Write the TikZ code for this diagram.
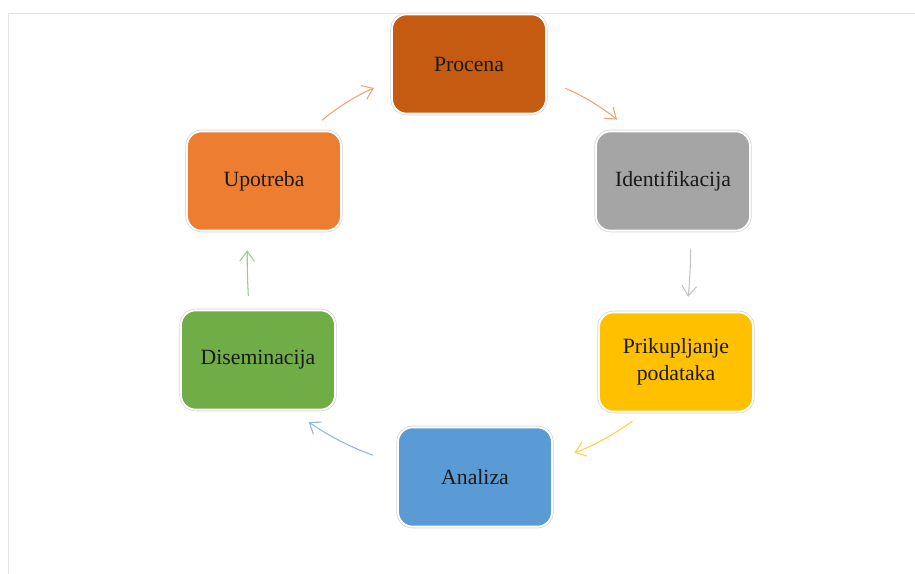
\documentclass[tikz,border=0pt]{standalone}
\usepackage{fontspec}
\setmainfont{Liberation Serif}
\usepackage{tikz}
\usetikzlibrary{arrows.meta}
\definecolor{procfill}{HTML}{C55A11}
\definecolor{identfill}{HTML}{A5A5A5}
\definecolor{prikfill}{HTML}{FFC000}
\definecolor{analfill}{HTML}{5B9BD5}
\definecolor{disefill}{HTML}{70AD47}
\definecolor{upofill}{HTML}{ED7D31}
\definecolor{orangelink}{HTML}{F2A272}
\definecolor{graylink}{HTML}{C3C3C3}
\definecolor{yellowlink}{HTML}{FFD04A}
\definecolor{bluelink}{HTML}{90B6DF}
\definecolor{greenlink}{HTML}{9DC98B}
\definecolor{framegray}{HTML}{E4E4E4}

\begin{document}
\begin{tikzpicture}[x=0.75pt,y=-0.75pt,
        stage/.style={rounded corners=11pt, minimum width=115.5pt, minimum height=74.5pt,
            draw=white, line width=1.4pt, preaction={draw=black!18, line width=2.4pt},
            align=center, inner sep=2pt, text=black!90, font=\fontsize{16.3}{20}\selectfont},
        link/.style={-{Straight Barb[length=7.5pt,width=11pt]}, line width=0.8pt}]
                \useasboundingbox (0,0) rectangle (915,574);
                % frame
                \draw[framegray, line width=0.9pt] (8.5,574) -- (8.5,13.5) -- (915,13.5);
                % stages
                \node[stage, fill=procfill] (pro) at (469,64) {Procena};
                \node[stage, fill=identfill] (ide) at (673,181) {Identifikacija};
                \node[stage, fill=prikfill] (pri) at (676,362) {Prikupljanje\\podataka};
                \node[stage, fill=analfill] (ana) at (475,477) {Analiza};
                \node[stage, fill=disefill] (dis) at (258,360) {Diseminacija};
                \node[stage, fill=upofill] (upo) at (264,181) {Upotreba};
                % cycle
                \draw[link, orangelink, shorten <=12pt, shorten >=14pt] (upo.48) to[bend left=8] (pro.192);
                \draw[link, orangelink, shorten <=15pt, shorten >=13pt] (pro.348) to[bend left=8] (ide.130);
                \draw[link, graylink, shorten <=13pt, shorten >=11pt] (ide.289) to[bend left=3] (pri.78);
                \draw[link, yellowlink, shorten <=11pt, shorten >=17pt] (pri.-122) to[bend left=8] (ana.12);
                \draw[link, bluelink, shorten <=19pt, shorten >=15pt] (ana.170) to[bend left=8] (dis.-56);
                \draw[link, greenlink, shorten <=10pt, shorten >=14pt] (dis.100) to[bend left=2] (upo.-108);
            \end{tikzpicture}
\end{document}
